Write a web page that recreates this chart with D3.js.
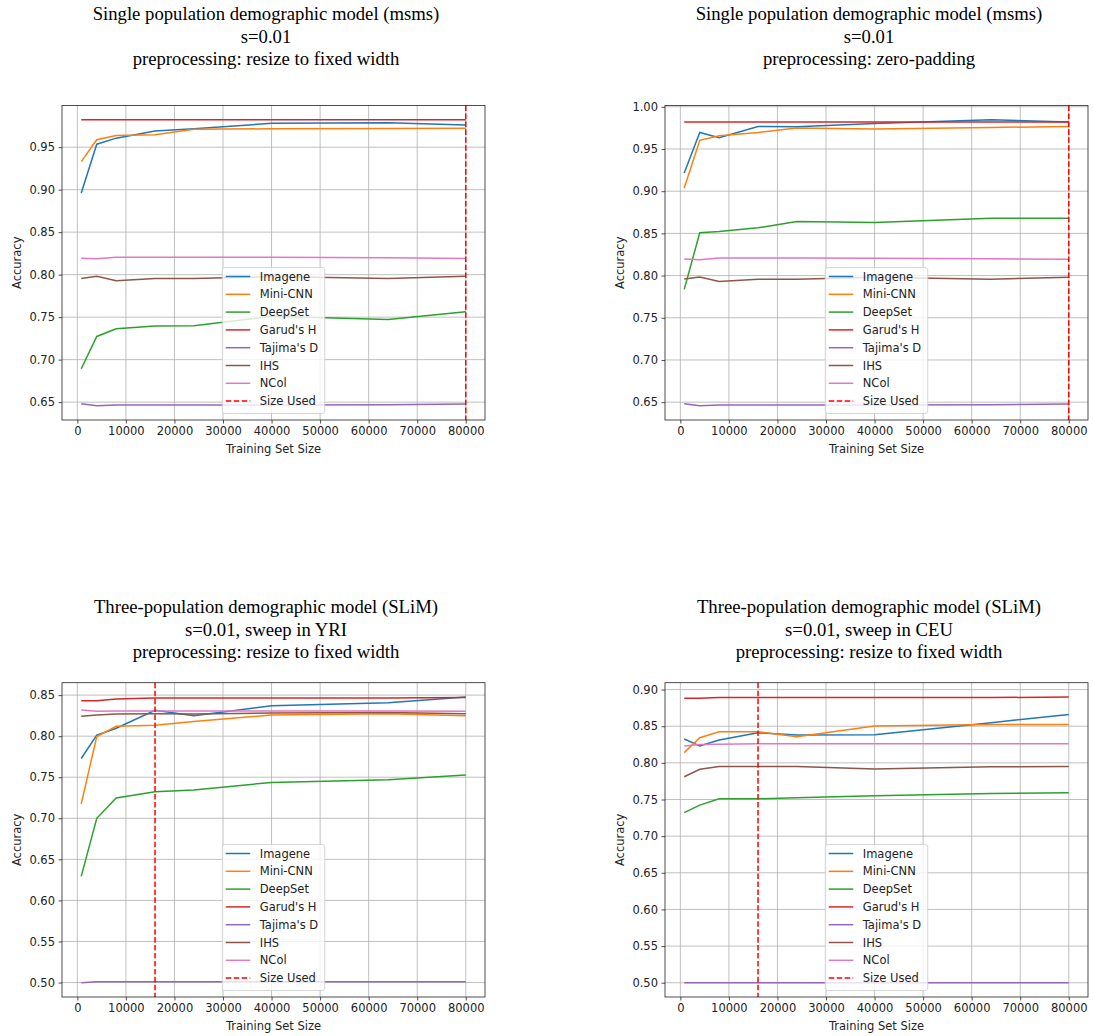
<!DOCTYPE html>
<html>
<head>
    <style>
        body { margin: 0; background: #fff; }
        .tick text { font: 11.5px "DejaVu Sans", sans-serif; fill: #222; }
        .label { font: 11.5px "DejaVu Sans", sans-serif; fill: #222; text-anchor: middle; }
        .title { font: 18.7px "Liberation Serif", "Times New Roman", serif; fill: #000; text-anchor: middle; }
        .legend text { font: 11.5px "DejaVu Sans", sans-serif; fill: #222; }
    </style>
    <script src="https://cdn.jsdelivr.net/npm/d3@7"></script>
</head>
<body>
    <svg width="1093" height="1036"></svg>
    <script>

        // training set sizes (x) shared by every panel
        let sizes = [800, 4000, 8000, 16000, 24000, 40000, 64000, 80000];
        let methods = ["Imagene", "Mini-CNN", "DeepSet", "Garud's H", "Tajima's D", "IHS", "NCol"];
        let colors = ["#1f77b4", "#ff7f0e", "#2ca02c", "#d62728", "#9467bd", "#8c564b", "#e377c2"];

        // accuracy per method, same order as methods
        let msmsResize = [
            [0.896, 0.9535, 0.9606, 0.969, 0.9716, 0.978, 0.9787, 0.976],
            [0.933, 0.9587, 0.9638, 0.9646, 0.9712, 0.9716, 0.972, 0.9724],
            [0.6893, 0.7273, 0.7363, 0.7395, 0.7399, 0.751, 0.7473, 0.7563],
            [0.9822, 0.9822, 0.9822, 0.9822, 0.9822, 0.9822, 0.9822, 0.9822],
            [0.6481, 0.6458, 0.6465, 0.6465, 0.6465, 0.6465, 0.6468, 0.6477],
            [0.7955, 0.7982, 0.7928, 0.7955, 0.7956, 0.7977, 0.7955, 0.798],
            [0.8194, 0.8188, 0.8206, 0.8206, 0.8206, 0.8205, 0.82, 0.819]
        ];
        let msmsZeroPad = [
            [0.9216, 0.9696, 0.9634, 0.9767, 0.9763, 0.9803, 0.9846, 0.982],
            [0.9039, 0.9602, 0.9657, 0.9696, 0.9748, 0.9736, 0.9755, 0.9767],
            [0.7837, 0.8507, 0.8523, 0.8566, 0.8641, 0.8628, 0.868, 0.868],
            [0.982, 0.982, 0.982, 0.982, 0.982, 0.982, 0.982, 0.982],
            [0.6481, 0.6458, 0.6465, 0.6465, 0.6465, 0.6465, 0.6468, 0.6477],
            [0.7959, 0.7982, 0.7931, 0.7957, 0.7957, 0.798, 0.7957, 0.798],
            [0.8195, 0.8188, 0.8207, 0.8207, 0.8207, 0.8205, 0.82, 0.8192]
        ];
        let slimYRI = [
            [0.7728, 0.8012, 0.8097, 0.8316, 0.825, 0.8371, 0.8408, 0.8477],
            [0.7175, 0.7995, 0.8121, 0.8133, 0.8178, 0.8258, 0.8274, 0.825],
            [0.6293, 0.70, 0.7248, 0.7324, 0.7345, 0.7437, 0.747, 0.7527],
            [0.8432, 0.8432, 0.8453, 0.8465, 0.8465, 0.8465, 0.8465, 0.847],
            [0.4998, 0.501, 0.501, 0.501, 0.501, 0.501, 0.501, 0.501],
            [0.8243, 0.8258, 0.827, 0.8274, 0.827, 0.8283, 0.8287, 0.8274],
            [0.8319, 0.8303, 0.8305, 0.8305, 0.8305, 0.8305, 0.8305, 0.8303]
        ];
        let slimCEU = [
            [0.8326, 0.8231, 0.8313, 0.8412, 0.838, 0.8385, 0.8548, 0.866],
            [0.814, 0.8344, 0.8425, 0.8425, 0.8357, 0.8503, 0.8525, 0.8522],
            [0.732, 0.7424, 0.751, 0.751, 0.7524, 0.7552, 0.7583, 0.7592],
            [0.8883, 0.8883, 0.8891, 0.8891, 0.8891, 0.8891, 0.8891, 0.8899],
            [0.5, 0.5, 0.5, 0.5, 0.5, 0.5, 0.5, 0.5],
            [0.781, 0.7913, 0.795, 0.795, 0.795, 0.7918, 0.7946, 0.795],
            [0.8231, 0.8249, 0.8253, 0.8262, 0.8262, 0.8262, 0.8262, 0.8262]
        ];

        let titles = [
            ["Single population demographic model (msms)", "s=0.01", "preprocessing: resize to fixed width"],
            ["Single population demographic model (msms)", "s=0.01", "preprocessing: zero-padding"],
            ["Three-population demographic model (SLiM)", "s=0.01, sweep in YRI", "preprocessing: resize to fixed width"],
            ["Three-population demographic model (SLiM)", "s=0.01, sweep in CEU", "preprocessing: resize to fixed width"]
        ];
        let sizeUsed = [80000, 80000, 16000, 16000];

        let svg = d3.select("svg");

        let panels = [
            {data: msmsResize, left: 62, right: 485, top: 105.5, bottom: 420, titleX: 266, titleY: 20},
            {data: msmsZeroPad, left: 665, right: 1088, top: 105.5, bottom: 420, titleX: 869, titleY: 20},
            {data: slimYRI, left: 62, right: 485, top: 682.7, bottom: 997, titleX: 266, titleY: 613},
            {data: slimCEU, left: 665, right: 1088, top: 682.7, bottom: 997, titleX: 869, titleY: 613}
        ];

        // matplotlib style 5% margins
        function padded(ext) {
            let d = ext[1] - ext[0];
            return [ext[0] - 0.05 * d, ext[1] + 0.05 * d];
        }

        panels.forEach(function(p, pi) {
            let x = d3.scaleLinear().domain(padded(d3.extent(sizes))).range([p.left, p.right]);
            let y = d3.scaleLinear().domain(padded(d3.extent(p.data.flat()))).range([p.bottom, p.top]);
            let g = svg.append("g");

            titles[pi].forEach(function(line, i) {
                g.append("text").attr("class", "title")
                    .attr("x", p.titleX).attr("y", p.titleY + i * 22.5)
                    .text(line);
            });

            // grid
            let xt = x.ticks(8), yt = y.ticks(8);
            g.selectAll(".gx").data(xt).enter().append("line")
                .attr("x1", d => x(d)).attr("x2", d => x(d))
                .attr("y1", p.top).attr("y2", p.bottom)
                .attr("stroke", "#b0b0b0").attr("stroke-width", 0.8);
            g.selectAll(".gy").data(yt).enter().append("line")
                .attr("x1", p.left).attr("x2", p.right)
                .attr("y1", d => y(d)).attr("y2", d => y(d))
                .attr("stroke", "#b0b0b0").attr("stroke-width", 0.8);

            // series
            let line = d3.line().x((d, i) => x(sizes[i])).y(d => y(d));
            p.data.forEach(function(vals, i) {
                g.append("path")
                    .attr("d", line(vals))
                    .attr("fill", "none")
                    .attr("stroke", colors[i])
                    .attr("stroke-width", 1.5);
            });

            // size used marker
            g.append("line")
                .attr("x1", x(sizeUsed[pi])).attr("x2", x(sizeUsed[pi]))
                .attr("y1", p.top).attr("y2", p.bottom)
                .attr("stroke", "#ff0000").attr("stroke-width", 1.5)
                .attr("stroke-dasharray", "5.55,2.4");

            // axes
            let ax = g.append("g").attr("transform", "translate(0," + p.bottom + ")")
                .call(d3.axisBottom(x).tickValues(xt).tickFormat(d3.format("d")).tickSize(3.5).tickPadding(3.5));
            let ay = g.append("g").attr("transform", "translate(" + p.left + ",0)")
                .call(d3.axisLeft(y).tickValues(yt).tickFormat(d3.format(".2f")).tickSize(3.5).tickPadding(3.5));
            [ax, ay].forEach(function(a) {
                a.select(".domain").remove();
                a.selectAll(".tick line").attr("stroke", "#222").attr("stroke-width", 0.8);
            });

            g.append("rect")
                .attr("x", p.left).attr("y", p.top)
                .attr("width", p.right - p.left).attr("height", p.bottom - p.top)
                .attr("fill", "none").attr("stroke", "#222").attr("stroke-width", 0.8);

            g.append("text").attr("class", "label")
                .attr("x", (p.left + p.right) / 2).attr("y", p.bottom + 33)
                .text("Training Set Size");
            g.append("text").attr("class", "label")
                .attr("transform", "translate(" + (p.left - 41) + "," + ((p.top + p.bottom) / 2) + ") rotate(-90)")
                .text("Accuracy");

            // legend, lower center
            let entries = methods.map((m, i) => ({name: m, color: colors[i], dash: null}));
            entries.push({name: "Size Used", color: "#ff0000", dash: "5.55,2.4"});
            let lw = 102.5, lh = 146;
            let lx = (p.left + p.right) / 2 - lw / 2;
            let ly = p.bottom - 6.5 - lh;
            let leg = g.append("g").attr("class", "legend");
            leg.append("rect")
                .attr("x", lx).attr("y", ly).attr("width", lw).attr("height", lh)
                .attr("rx", 2.5)
                .attr("fill", "#fff").attr("fill-opacity", 0.8)
                .attr("stroke", "#cccccc").attr("stroke-width", 0.8);
            entries.forEach(function(e, i) {
                let cy = ly + 9 + i * 17.8;
                leg.append("line")
                    .attr("x1", lx + 3.5).attr("x2", lx + 28)
                    .attr("y1", cy).attr("y2", cy)
                    .attr("stroke", e.color).attr("stroke-width", 1.5)
                    .attr("stroke-dasharray", e.dash);
                leg.append("text")
                    .attr("x", lx + 37.5).attr("y", cy + 4)
                    .text(e.name);
            });
        });
    </script>
</body>
</html>
